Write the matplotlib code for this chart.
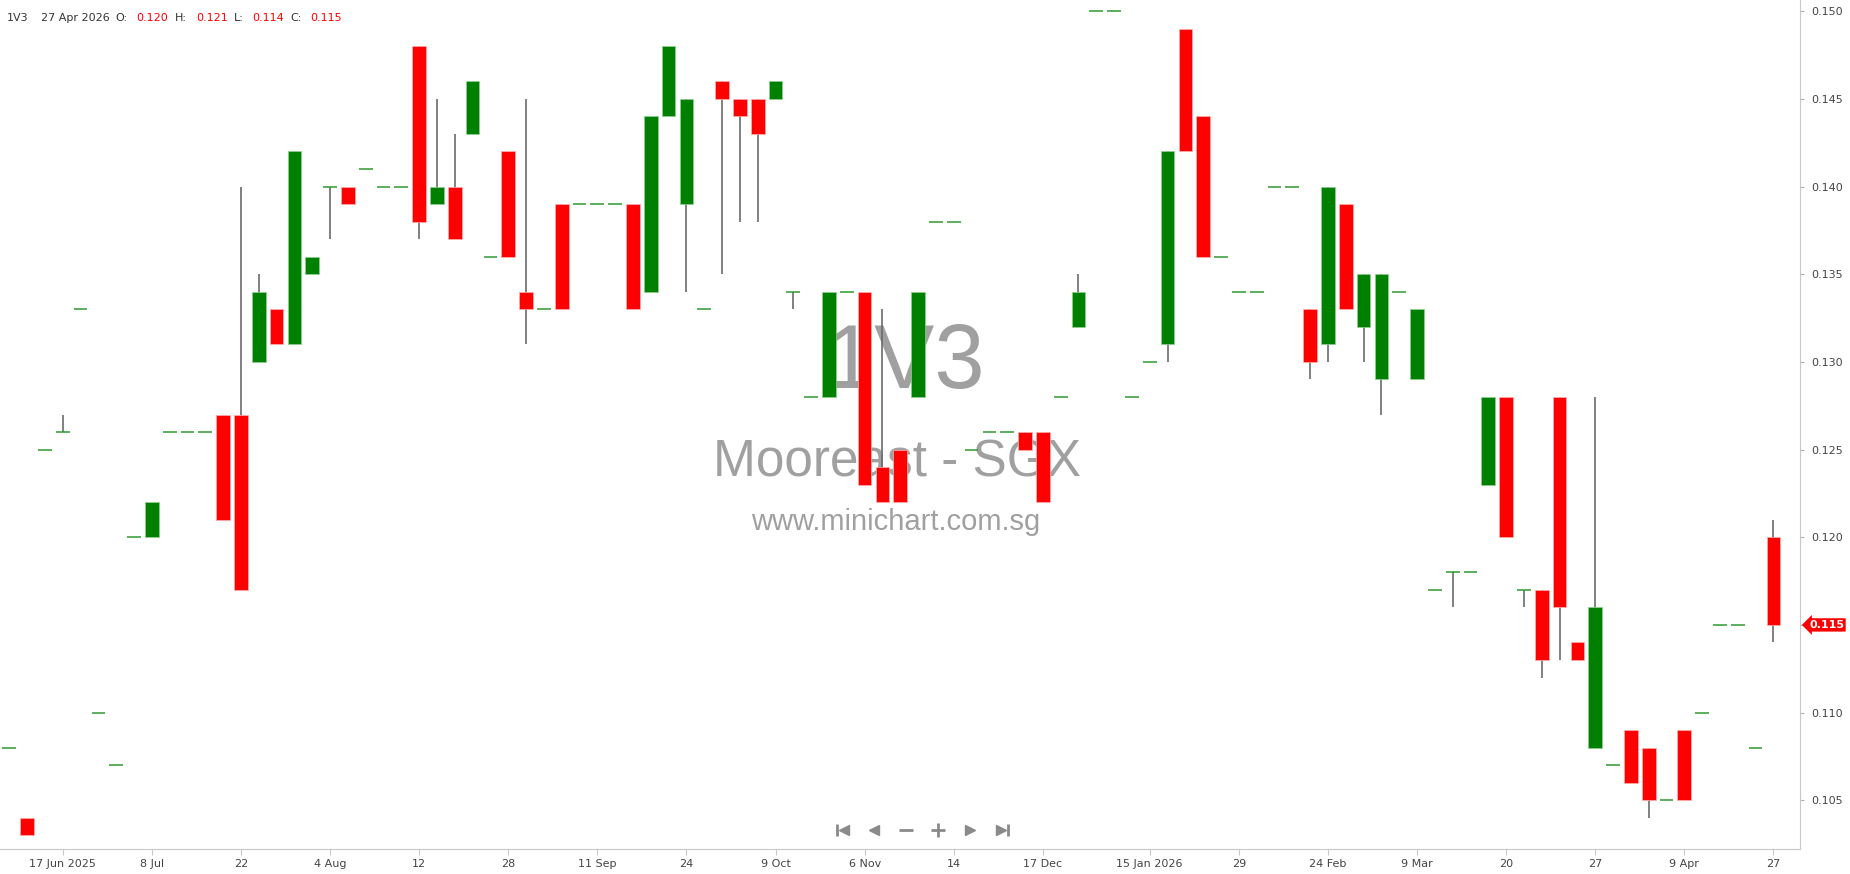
import matplotlib
matplotlib.use("Agg")
import matplotlib.pyplot as plt
import matplotlib.transforms as mtransforms
from matplotlib.lines import Line2D
import numpy as np

# weekly-ish OHLC bars for 1V3 (Mooreast)
opens = [0.108, 0.104, 0.125, 0.126, 0.133, 0.110, 0.107, 0.120, 0.120, 0.126,
         0.126, 0.126, 0.127, 0.127, 0.130, 0.133, 0.131, 0.135, 0.140, 0.140,
         0.141, 0.140, 0.140, 0.148, 0.139, 0.140, 0.143, 0.136, 0.142, 0.134,
         0.133, 0.139, 0.139, 0.139, 0.139, 0.139, 0.134, 0.144, 0.139, 0.133,
         0.146, 0.145, 0.145, 0.145, 0.134, 0.128, 0.128, 0.134, 0.134, 0.124,
         0.125, 0.128, 0.138, 0.138, 0.125, 0.126, 0.126, 0.126, 0.126, 0.128,
         0.132, 0.150, 0.150, 0.128, 0.130, 0.131, 0.149, 0.144, 0.136, 0.134,
         0.134, 0.140, 0.140, 0.133, 0.131, 0.139, 0.132, 0.129, 0.134, 0.129,
         0.117, 0.118, 0.118, 0.123, 0.128, 0.117, 0.117, 0.128, 0.114, 0.108,
         0.107, 0.109, 0.108, 0.105, 0.109, 0.110, 0.115, 0.115, 0.108, 0.120]
highs = [0.108, 0.104, 0.125, 0.127, 0.133, 0.110, 0.107, 0.120, 0.122, 0.126,
         0.126, 0.126, 0.127, 0.140, 0.135, 0.133, 0.142, 0.136, 0.140, 0.140,
         0.141, 0.140, 0.140, 0.148, 0.145, 0.143, 0.146, 0.136, 0.142, 0.145,
         0.133, 0.139, 0.139, 0.139, 0.139, 0.139, 0.144, 0.148, 0.145, 0.133,
         0.146, 0.145, 0.145, 0.146, 0.134, 0.128, 0.134, 0.134, 0.134, 0.133,
         0.125, 0.134, 0.138, 0.138, 0.125, 0.126, 0.126, 0.126, 0.126, 0.128,
         0.135, 0.150, 0.150, 0.128, 0.130, 0.142, 0.149, 0.144, 0.136, 0.134,
         0.134, 0.140, 0.140, 0.133, 0.140, 0.139, 0.135, 0.135, 0.134, 0.133,
         0.117, 0.118, 0.118, 0.128, 0.128, 0.117, 0.117, 0.128, 0.114, 0.128,
         0.107, 0.109, 0.108, 0.105, 0.109, 0.110, 0.115, 0.115, 0.108, 0.121]
lows = [0.108, 0.103, 0.125, 0.126, 0.133, 0.110, 0.107, 0.120, 0.120, 0.126,
        0.126, 0.126, 0.121, 0.117, 0.130, 0.131, 0.131, 0.135, 0.137, 0.139,
        0.141, 0.140, 0.140, 0.137, 0.139, 0.137, 0.143, 0.136, 0.136, 0.131,
        0.133, 0.133, 0.139, 0.139, 0.139, 0.133, 0.134, 0.144, 0.134, 0.133,
        0.135, 0.138, 0.138, 0.145, 0.133, 0.128, 0.128, 0.134, 0.123, 0.122,
        0.122, 0.128, 0.138, 0.138, 0.125, 0.126, 0.126, 0.125, 0.122, 0.128,
        0.132, 0.150, 0.150, 0.128, 0.130, 0.130, 0.142, 0.136, 0.136, 0.134,
        0.134, 0.140, 0.140, 0.129, 0.130, 0.133, 0.130, 0.127, 0.134, 0.129,
        0.117, 0.116, 0.118, 0.123, 0.120, 0.116, 0.112, 0.113, 0.113, 0.108,
        0.107, 0.106, 0.104, 0.105, 0.105, 0.110, 0.115, 0.115, 0.108, 0.114]
closes = [0.108, 0.103, 0.125, 0.126, 0.133, 0.110, 0.107, 0.120, 0.122, 0.126,
          0.126, 0.126, 0.121, 0.117, 0.134, 0.131, 0.142, 0.136, 0.140, 0.139,
          0.141, 0.140, 0.140, 0.138, 0.140, 0.137, 0.146, 0.136, 0.136, 0.133,
          0.133, 0.133, 0.139, 0.139, 0.139, 0.133, 0.144, 0.148, 0.145, 0.133,
          0.145, 0.144, 0.143, 0.146, 0.134, 0.128, 0.134, 0.134, 0.123, 0.122,
          0.122, 0.134, 0.138, 0.138, 0.125, 0.126, 0.126, 0.125, 0.122, 0.128,
          0.134, 0.150, 0.150, 0.128, 0.130, 0.142, 0.142, 0.136, 0.136, 0.134,
          0.134, 0.140, 0.140, 0.130, 0.140, 0.133, 0.135, 0.135, 0.134, 0.133,
          0.117, 0.118, 0.118, 0.128, 0.120, 0.117, 0.113, 0.116, 0.113, 0.116,
          0.107, 0.106, 0.105, 0.105, 0.105, 0.110, 0.115, 0.115, 0.108, 0.115]

# bar index -> date label on the x axis
tick_pos = [3, 8, 13, 18, 23, 28, 33, 38, 43, 48, 53, 58, 64, 69, 74, 79, 84, 89, 94, 99]
tick_labels = ["17 Jun 2025", "8 Jul", "22", "4 Aug", "12", "28", "11 Sep", "24",
               "9 Oct", "6 Nov", "14", "17 Dec", "15 Jan 2026", "29", "24 Feb",
               "9 Mar", "20", "27", "9 Apr", "27"]
price_ticks = [0.105, 0.110, 0.115, 0.120, 0.125, 0.130, 0.135, 0.140, 0.145, 0.150]

code = "1V3"
name = "Mooreast - SGX"
site = "www.minichart.com.sg"
last_date = "27 Apr 2026"

W, H = 1850, 874
fig = plt.figure(figsize=(W / 100, H / 100), dpi=100)
ax = fig.add_axes([0, 25 / H, 1800 / W, 849 / H])

o = np.array(opens)
h = np.array(highs)
l = np.array(lows)
c = np.array(closes)
x = np.arange(len(o))
bw = 0.77

up_col = "#008000"
dn_col = "#ff0000"
wick_col = "#6b6b6b"
doji_col = "#2f9a2f"

# wicks
has_wick = (h > np.maximum(o, c)) | (l < np.minimum(o, c))
ax.vlines(x[has_wick], l[has_wick], h[has_wick], color=wick_col, lw=1.2, zorder=2)

# bodies
flat = np.isclose(o, c)
up = (c > o) & ~flat
dn = (c < o) & ~flat
ax.bar(x[up], (c - o)[up], bottom=o[up], width=bw, color=up_col,
       edgecolor="#8fd08f", linewidth=0.5, zorder=3)
ax.bar(x[dn], (o - c)[dn], bottom=c[dn], width=bw, color=dn_col,
       edgecolor="#ffb0b0", linewidth=0.5, zorder=3)
# doji bars
ax.hlines(c[flat], x[flat] - bw / 2, x[flat] + bw / 2, color=doji_col, lw=1.1, zorder=3)

ax.set_xlim(-0.52, 100.49)
ax.set_ylim(0.10222, 0.15064)

# watermark
wm = "#a0a0a0"
ax.text(0.5025, 1 - 365 / 849, code, transform=ax.transAxes, ha="center", va="center",
        fontsize=65, color=wm, family="Liberation Sans", zorder=0)
ax.text(0.4986, 1 - 463 / 849, name, transform=ax.transAxes, ha="center", va="center",
        fontsize=37, color=wm, family="Liberation Sans", zorder=0)
ax.text(0.4978, 1 - 522 / 849, site, transform=ax.transAxes, ha="center", va="center",
        fontsize=21, color=wm, family="Liberation Sans", zorder=0)

# axes styling
for side in ["top", "left"]:
    ax.spines[side].set_visible(False)
ax.spines["bottom"].set_color("#c8c8c8")
ax.spines["right"].set_color("#c8c8c8")
ax.yaxis.tick_right()
ax.set_yticks(price_ticks)
# the last-price tag sits on top of its own tick label
ax.set_yticklabels(["" if np.isclose(p, closes[-1]) else f"{p:.3f}" for p in price_ticks])
ax.set_xticks(tick_pos)
ax.set_xticklabels(tick_labels)
ax.tick_params(axis="y", length=3, width=0.8, color="#b0b0b0", pad=5,
               labelsize=8, labelcolor="#444444")
ax.tick_params(axis="x", length=4, width=0.8, color="#c8c8c8", pad=3,
               labelsize=8, labelcolor="#444444")

# last price tag
trans = mtransforms.blended_transform_factory(ax.transAxes, ax.transData)
ax.annotate(f"{closes[-1]:.3f}", xy=(1.0, closes[-1]), xycoords=trans,
            xytext=(6.5, 0), textcoords="offset points", ha="left", va="center",
            fontsize=8, fontweight="bold", color="white",
            bbox=dict(boxstyle="larrow,pad=0.15", fc=dn_col, ec="none"),
            annotation_clip=False, zorder=5)

# header line
hy = 1 - 18 / H
fig.text(6.7 / W, hy, code, fontsize=8, color="#333333", va="center")
fig.text(40.7 / W, hy, last_date, fontsize=8, color="#333333", va="center")
header = [("O:", 115, opens[-1], 136.7), ("H:", 175, highs[-1], 196.7),
          ("L:", 234.3, lows[-1], 252.3), ("C:", 290.7, closes[-1], 310.7)]
for lab, lx, val, vx in header:
    fig.text(lx / W, hy, lab, fontsize=8, color="#333333", va="center")
    fig.text(vx / W, hy, f"{val:.3f}", fontsize=8, color="#ff0000", va="center")

# navigation buttons
nav = "#8a8a8a"
ny = 1 - 830 / H
def icon(px, marker, size, **kw):
    fig.add_artist(Line2D([px / W], [ny], marker=marker, markersize=size, color=nav,
                          markeredgecolor=nav, linestyle="none",
                          transform=fig.transFigure, **kw))
icon(836.5, "|", 9, markeredgewidth=2)
icon(843.5, "<", 7)
icon(874, "<", 7)
icon(905.5, "_", 10, markeredgewidth=2)
icon(937.5, "+", 10, markeredgewidth=2)
icon(969.5, ">", 7)
icon(1000.5, ">", 7)
icon(1007.5, "|", 9, markeredgewidth=2)

fig.savefig("out.png", dpi=100)
